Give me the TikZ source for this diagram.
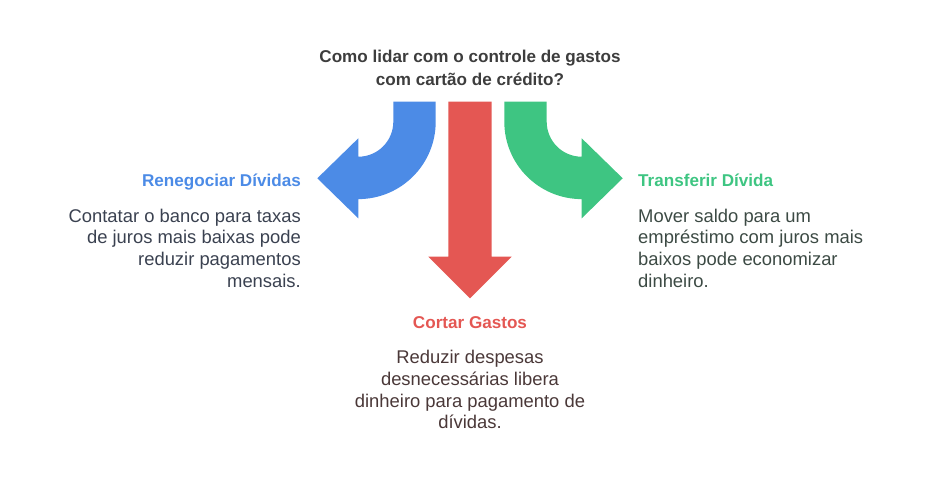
\documentclass[tikz,border=0pt]{standalone}
\usepackage{fontspec}
\setmainfont{Liberation Sans}
\usetikzlibrary{positioning}
\definecolor{myblue}{RGB}{76,139,230}
\definecolor{myred}{RGB}{228,87,83}
\definecolor{mygreen}{RGB}{62,197,130}
\definecolor{mytitle}{RGB}{61,61,61}
\definecolor{txtblue}{RGB}{58,65,80}
\definecolor{txtgreen}{RGB}{60,74,68}
\definecolor{txtred}{RGB}{74,56,56}
\tikzset{
  hdr/.style={inner sep=0pt, font=\bfseries\fontsize{17.1}{23}\selectfont},
  body/.style={inner sep=0pt, font=\fontsize{18.4}{21.7}\selectfont}
}

\begin{document}
\begin{tikzpicture}[x=1pt, y=-1pt]
\useasboundingbox (0,0) rectangle (940,480);

% title
\node[hdr, color=mytitle, align=center, anchor=north] (title) at (470,49.5)
  {Como lidar com o controle de gastos\\com cartão de crédito?};

% curved arrow to the left
\fill[myblue] (393.3,101.7) -- (435.7,101.7) -- (435.7,121.7)
  arc[start angle=0, end angle=90, radius=77.4] -- (358.3,218.3)
  -- (317.3,178.3) -- (358.3,138.3) -- (358.3,156.7)
  arc[start angle=90, end angle=0, radius=35] -- cycle;

% straight arrow down
\fill[myred] (448.3,101.7) -- (491.7,101.7) -- (491.7,256.7) -- (511.7,256.7)
  -- (470,298.3) -- (428.3,256.7) -- (448.3,256.7) -- cycle;

% curved arrow to the right
\fill[mygreen] (546.7,101.7) -- (504.3,101.7) -- (504.3,121.7)
  arc[start angle=180, end angle=90, radius=77.4] -- (581.7,218.3)
  -- (622.7,178.3) -- (581.7,138.3) -- (581.7,156.7)
  arc[start angle=90, end angle=180, radius=35] -- cycle;

% left option
\node[hdr, color=myblue, anchor=base east] (reneg) at (301,186) {Renegociar Dívidas};
\node[body, color=txtblue, align=right, anchor=north east] (renegtxt) at (301,208.6)
  {Contatar o banco para taxas\\de juros mais baixas pode\\reduzir pagamentos\\mensais.};

% right option
\node[hdr, color=mygreen, anchor=base west] (transf) at (638,186) {Transferir Dívida};
\node[body, color=txtgreen, align=left, anchor=north west] (transftxt) at (638,208.6)
  {Mover saldo para um\\empréstimo com juros mais\\baixos pode economizar\\dinheiro.};

% bottom option
\node[hdr, color=myred, anchor=base] (cortar) at (470,328.5) {Cortar Gastos};
\node[body, color=txtred, align=center, anchor=north] (cortartxt) at (470,350.2)
  {Reduzir despesas\\desnecessárias libera\\dinheiro para pagamento de\\dívidas.};
\end{tikzpicture}
\end{document}
